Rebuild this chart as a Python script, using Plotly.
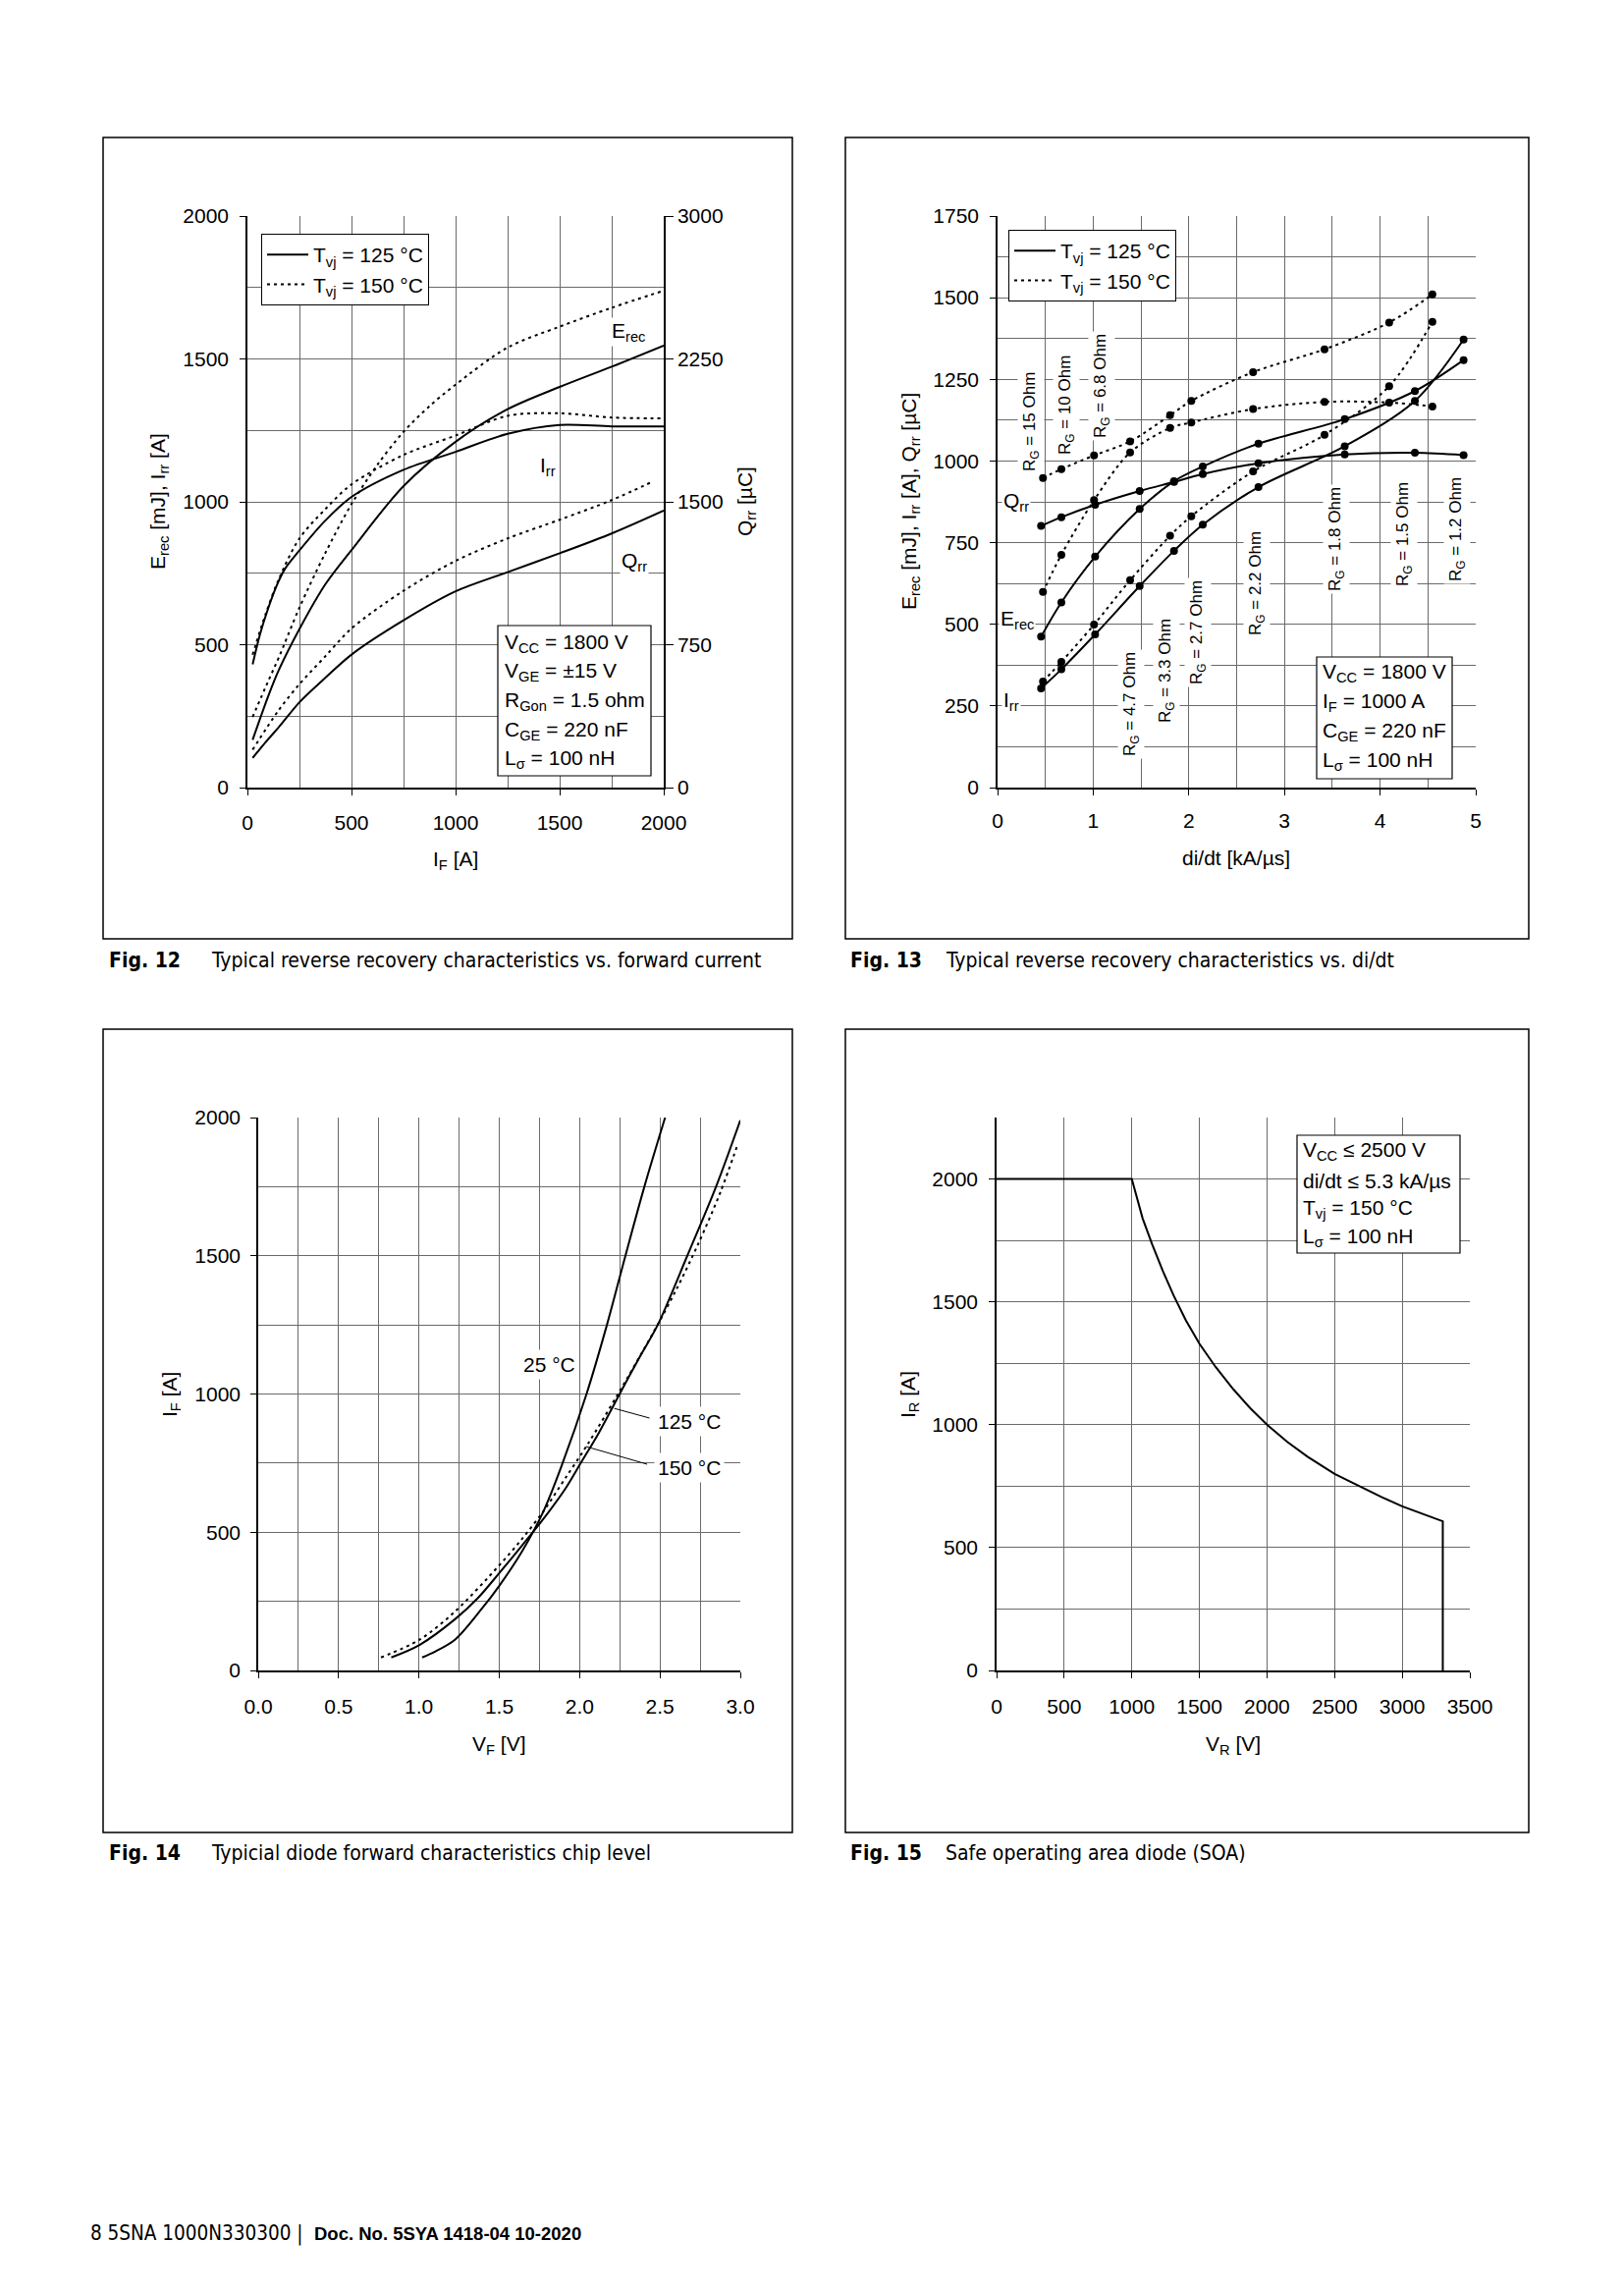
import plotly.graph_objects as go

W, H = 1653, 2338
OFF = 8  # default page body margin of the written html

# ---------------- Fig. 12 data (I_F in A) ----------------
f12_if_erec125 = [25, 100, 150, 250, 375, 500, 750, 1000, 1250, 1500, 1750, 2000]
f12_erec125 = [167, 320, 410, 555, 712, 831, 1055, 1210, 1324, 1402, 1473, 1547]
f12_if_irr125 = [25, 60, 100, 140, 180, 250, 375, 500, 750, 1000, 1250, 1500, 1750, 2000]
f12_irr125 = [431, 535, 628, 706, 765, 830, 935, 1017, 1112, 1175, 1238, 1269, 1264, 1264]
f12_if_qrr125 = [25, 100, 150, 250, 375, 500, 750, 1000, 1250, 1500, 1750, 2000]
f12_qrr125 = [156, 254, 316, 448, 577, 698, 878, 1030, 1131, 1230, 1334, 1454]

f12_if_erec150 = [25, 100, 150, 250, 375, 500, 625, 750, 875, 1000, 1250, 1500, 1750, 2000]
f12_erec150 = [247, 373, 454, 630, 822, 992, 1130, 1245, 1335, 1410, 1540, 1613, 1679, 1739]
f12_if_irr150 = [25, 85, 150, 250, 375, 500, 750, 1000, 1250, 1500, 1750, 2000]
f12_irr150 = [465, 602, 728, 872, 975, 1061, 1164, 1232, 1301, 1310, 1295, 1292]
f12_if_qrr150 = [25, 150, 250, 375, 500, 750, 1000, 1250, 1500, 1750, 1950]
f12_qrr150 = [199, 406, 543, 690, 835, 1033, 1190, 1308, 1406, 1509, 1608]

# ---------------- Fig. 13 data (di/dt in kA/us) ----------------
f13_didt125 = [0.455, 0.667, 1.02, 1.486, 1.845, 2.146, 2.728, 3.63, 4.364, 4.873]
f13_qrr125 = [801, 828, 866, 908, 936, 960, 993, 1020, 1025, 1018]
f13_erec125 = [462, 567, 707, 853, 938, 983, 1053, 1128, 1214, 1309]
f13_irr125 = [304, 362, 469, 617, 725, 805, 920, 1045, 1184, 1372]

f13_didt150 = [0.475, 0.667, 1.009, 1.386, 1.804, 2.026, 2.672, 3.419, 4.095, 4.547]
f13_qrr150 = [948, 975, 1017, 1060, 1140, 1184, 1272, 1342, 1424, 1510]
f13_erec150 = [599, 713, 880, 1026, 1101, 1118, 1159, 1181, 1179, 1167]
f13_irr150 = [325, 385, 499, 635, 771, 831, 968, 1080, 1229, 1426]

f13_rg_labels = ["15", "10", "6.8", "4.7", "3.3", "2.7", "2.2", "1.8", "1.5", "1.2"]

# ---------------- Fig. 14 data (V_F in V, I_F in A) ----------------
f14_vf25 = [1.02, 1.10, 1.226, 1.391, 1.501, 1.639, 1.776, 1.894, 2.043, 2.17, 2.285, 2.403, 2.532]
f14_if25 = [47, 68, 112, 223, 307, 428, 577, 750, 1000, 1250, 1500, 1750, 2000]
f14_vf125 = [0.828, 1.006, 1.226, 1.364, 1.501, 1.639, 1.776, 1.914, 2.01, 2.12, 2.249, 2.37, 2.486, 2.67, 2.849, 3.0]
f14_if125 = [47, 93, 186, 260, 353, 450, 549, 660, 753, 860, 1000, 1130, 1250, 1500, 1750, 1990]
f14_vf150 = [0.764, 1.006, 1.226, 1.501, 1.639, 1.776, 1.914, 2.051, 2.244, 2.464, 2.601, 2.739, 2.876, 2.986]
f14_if150 = [47, 112, 214, 381, 474, 577, 698, 819, 1005, 1228, 1377, 1544, 1730, 1907]

# ---------------- Fig. 15 data (V_R in V, I_R in A) ----------------
f15_vr = [0, 1000, 1080, 1150, 1230, 1310, 1400, 1500, 1620, 1750, 1880, 2000, 2150, 2300, 2500, 2700, 2850, 3000, 3150, 3300, 3300]
f15_ir = [2000, 2000, 1840, 1735, 1625, 1525, 1425, 1330, 1235, 1145, 1065, 1000, 930, 870, 800, 745, 705, 668, 638, 607, 0]


def PX(x):
    return (x - OFF) / W


def PY(y):
    return 1 - (y - OFF) / H


FONT = "Liberation Sans, Arial, sans-serif"
CAPFONT = "Liberation Sans Narrow, DejaVu Sans Condensed, Roboto Condensed, Liberation Sans, sans-serif"
GRID = "#6a6a6a"
DOT = "3px,4px"

fig = go.Figure()


def line(x, y, xa, ya, dash=None, name=None, legend=None, show=False, shape="spline"):
    fig.add_trace(go.Scatter(
        x=x, y=y, xaxis=xa, yaxis=ya, mode="lines",
        line=dict(color="black", width=2, dash=dash, shape=shape, smoothing=0.9),
        name=name, showlegend=show, legend=legend, hoverinfo="skip"))


def markers(x, y, xa, ya):
    fig.add_trace(go.Scatter(
        x=x, y=y, xaxis=xa, yaxis=ya, mode="markers",
        marker=dict(color="black", size=8), showlegend=False, hoverinfo="skip"))


# Fig 12
L125 = "T<sub>vj</sub> = 125 °C"
L150 = "T<sub>vj</sub> = 150 °C"
line(f12_if_erec125, f12_erec125, "x", "y", name=L125, legend="legend", show=True)
line(f12_if_irr125, f12_irr125, "x", "y")
line(f12_if_qrr125, f12_qrr125, "x", "y5")
line(f12_if_erec150, f12_erec150, "x", "y", dash=DOT, name=L150, legend="legend", show=True)
line(f12_if_irr150, f12_irr150, "x", "y", dash=DOT)
line(f12_if_qrr150, f12_qrr150, "x", "y5", dash=DOT)

# Fig 13
line(f13_didt125, f13_qrr125, "x2", "y2", name=L125, legend="legend2", show=True)
line(f13_didt125, f13_erec125, "x2", "y2")
line(f13_didt125, f13_irr125, "x2", "y2")
line(f13_didt150, f13_qrr150, "x2", "y2", dash=DOT, name=L150, legend="legend2", show=True)
line(f13_didt150, f13_erec150, "x2", "y2", dash=DOT)
line(f13_didt150, f13_irr150, "x2", "y2", dash=DOT)
for yy in (f13_qrr125, f13_erec125, f13_irr125):
    markers(f13_didt125, yy, "x2", "y2")
for yy in (f13_qrr150, f13_erec150, f13_irr150):
    markers(f13_didt150, yy, "x2", "y2")

# Fig 14
line(f14_vf25, f14_if25, "x3", "y3")
line(f14_vf125, f14_if125, "x3", "y3")
line(f14_vf150, f14_if150, "x3", "y3", dash=DOT)

# Fig 15
line(f15_vr, f15_ir, "x4", "y4", shape="linear")


def axis(domain, rng, dtick, minor=None, anchor=None, standoff=10, fmt=None, side=None, **kw):
    d = dict(domain=domain, range=rng, dtick=dtick, tick0=0, showgrid=True, gridcolor=GRID,
             gridwidth=1.2, showline=True, linecolor="black", linewidth=1.5,
             ticks="outside", ticklen=6, tickcolor="black", tickwidth=1.2,
             tickfont=dict(family=FONT, size=21, color="black"), zeroline=False,
             anchor=anchor, ticklabelstandoff=standoff, fixedrange=True, automargin=False)
    if minor:
        d["minor"] = dict(dtick=minor, tick0=0, showgrid=True, gridcolor=GRID, gridwidth=1.2, ticks="")
    if fmt:
        d["tickformat"] = fmt
    if side:
        d["side"] = side
    d.update(kw)
    return d


top_y = [PY(802), PY(220)]
bot_y = [PY(1701), PY(1138)]

fig.update_layout(
    template="none",
    width=W, height=H, margin=dict(l=0, r=0, t=0, b=0, pad=0, autoexpand=False),
    paper_bgcolor="white", plot_bgcolor="white",
    xaxis=axis([PX(252), PX(676)], [0, 2000], 500, 250, anchor="y", standoff=10),
    yaxis=axis(top_y, [0, 2000], 500, 250, anchor="x", standoff=7),
    yaxis5=axis(top_y, [0, 3000], 750, None, anchor="x", standoff=0, side="right",
                overlaying="y", showgrid=False, ticklen=8),
    xaxis2=axis([PX(1016), PX(1503)], [0, 5], 1, 0.5, anchor="y2", standoff=8),
    yaxis2=axis(top_y, [0, 1750], 250, 125, anchor="x2", standoff=7),
    xaxis3=axis([PX(263), PX(754)], [0, 3], 0.5, 0.25, anchor="y3", standoff=11, fmt=".1f"),
    yaxis3=axis(bot_y, [0, 2000], 500, 250, anchor="x3", standoff=6),
    xaxis4=axis([PX(1015), PX(1497)], [0, 3500], 500, None, anchor="y4", standoff=11),
    yaxis4=axis(bot_y, [0, 2250], 500, 250, anchor="x4", standoff=7),
    legend=dict(x=PX(266), y=PY(238), xanchor="left", yanchor="top", bgcolor="white",
                bordercolor="black", borderwidth=1, font=dict(family=FONT, size=21, color="black"),
                tracegroupgap=0, itemwidth=42),
    legend2=dict(x=PX(1027), y=PY(234), xanchor="left", yanchor="top", bgcolor="white",
                 bordercolor="black", borderwidth=1, font=dict(family=FONT, size=21, color="black"),
                 tracegroupgap=0, itemwidth=42),
)

shapes = []
ann = []


def rect(x0, y0, x1, y1, width=1.5, fill=None, layer="above"):
    shapes.append(dict(type="rect", xref="paper", yref="paper", x0=PX(x0), x1=PX(x1),
                       y0=PY(y1), y1=PY(y0), line=dict(color="black", width=width),
                       fillcolor=fill, layer=layer))


def text(x, y, t, size=21, xanchor="center", angle=0, bg=None, family=FONT, pad=1):
    ann.append(dict(xref="paper", yref="paper", x=PX(x), y=PY(y), text=t, showarrow=False,
                    xanchor=xanchor, yanchor="middle", textangle=angle,
                    font=dict(family=family, size=size, color="black"),
                    bgcolor=bg, borderpad=pad))


# Outer frames
rect(105, 140, 807, 956)
rect(861, 140, 1557, 956)
rect(105, 1048, 807, 1866)
rect(861, 1048, 1557, 1866)

# Axis titles
text(464, 876, "I<sub>F</sub> [A]")
text(162, 511, "E<sub>rec</sub> [mJ], I<sub>rr</sub> [A]", angle=-90)
text(760, 511, "Q<sub>rr</sub> [µC]", angle=-90)
text(1259, 874, "di/dt [kA/µs]")
text(927, 511, "E<sub>rec</sub> [mJ], I<sub>rr</sub> [A], Q<sub>rr</sub> [µC]", angle=-90)
text(508, 1777, "V<sub>F</sub> [V]")
text(174, 1420, "I<sub>F</sub> [A]", angle=-90)
text(1256, 1777, "V<sub>R</sub> [V]")
text(926, 1420, "I<sub>R</sub> [A]", angle=-90)

# Fig 12 curve labels
text(640, 338, "E<sub>rec</sub>", bg="white")
text(558, 475, "I<sub>rr</sub>", bg="white")
text(646, 572, "Q<sub>rr</sub>", bg="white")

# Fig 12 parameter box
rect(507, 637, 663, 790, width=1.2, fill="white")
for yy, t in zip([655, 684, 714, 744, 773],
                 ["V<sub>CC</sub> = 1800 V", "V<sub>GE</sub> = ±15 V", "R<sub>Gon</sub> = 1.5 ohm",
                  "C<sub>GE</sub> = 220 nF", "L<sub>σ</sub> = 100 nH"]):
    text(512, yy, t, xanchor="left", size=21)

# Fig 13 curve labels
text(1035, 511, "Q<sub>rr</sub>", bg="white")
text(1036, 631, "E<sub>rec</sub>", bg="white")
text(1030, 714, "I<sub>rr</sub>", bg="white")

# Fig 13 R_G labels
rg_pos = [(1050, 430), (1086, 413), (1122, 393), (1152, 717), (1188, 683), (1220, 644),
          (1280, 594), (1361, 549), (1430, 544), (1484, 539)]
for (xx, yy), r in zip(rg_pos, f13_rg_labels):
    text(xx, yy, "R<sub>G</sub> = " + r + " Ohm", size=17, angle=-90, bg="white", pad=2)

# Fig 13 parameter box
rect(1341, 669, 1479, 793, width=1.2, fill="white")
for yy, t in zip([685, 715, 745, 775],
                 ["V<sub>CC</sub> = 1800 V", "I<sub>F</sub> = 1000 A", "C<sub>GE</sub> = 220 nF",
                  "L<sub>σ</sub> = 100 nH"]):
    text(1345, yy, t, xanchor="left", size=21)

# Fig 14 labels
text(559, 1390, "25 °C", bg="white", pad=3)
text(702, 1447, "125 °C", bg="white", pad=3)
text(702, 1494, "150 °C", bg="white", pad=3)
shapes.append(dict(type="line", xref="x3", yref="y3", x0=2.215, y0=948, x1=2.435, y1=913,
                   line=dict(color="black", width=1)))
shapes.append(dict(type="line", xref="x3", yref="y3", x0=2.04, y0=810, x1=2.42, y1=746,
                   line=dict(color="black", width=1)))

# Fig 15 parameter box
rect(1321, 1156, 1487, 1276, width=1.2, fill="white")
for yy, t in zip([1172, 1202, 1231, 1260],
                 ["V<sub>CC</sub> ≤ 2500 V", "di/dt ≤ 5.3 kA/µs", "T<sub>vj</sub> = 150 °C",
                  "L<sub>σ</sub> = 100 nH"]):
    text(1325, yy, t, xanchor="left", size=21)

# Captions
for (xf, xt, yy, num, cap) in [
        (109, 213, 978, "Fig. 12", "Typical reverse recovery characteristics vs. forward current"),
        (864, 961, 978, "Fig. 13", "Typical reverse recovery characteristics vs. di/dt"),
        (109, 213, 1887, "Fig. 14", "Typicial diode forward characteristics chip level"),
        (864, 961, 1887, "Fig. 15", "Safe operating area diode (SOA)")]:
    text(xf, yy, "<b>" + num + "</b>", size=21, xanchor="left", family=CAPFONT)
    text(xt, yy, cap, size=21, xanchor="left", family=CAPFONT)

# Footer
text(90, 2274, "8 5SNA 1000N330300 |", size=20.5, xanchor="left", family=CAPFONT)
text(318, 2274, "<b>Doc. No. 5SYA 1418-04 10-2020</b>", size=18.5, xanchor="left")

fig.update_layout(shapes=shapes, annotations=ann)
fig.write_html("out.html")
